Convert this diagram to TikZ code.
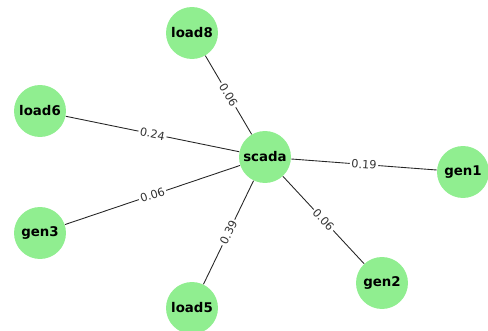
\documentclass[tikz,border=0pt]{standalone}
\usepackage{fontspec}
\setmainfont{DejaVu Sans}
\definecolor{lightgreen}{HTML}{90EE90}
\begin{document}
\begin{tikzpicture}[x=0.02cm,y=-0.02cm,
    bus/.style={circle, fill=lightgreen, minimum size=1.04cm, inner sep=0pt, font=\fontsize{7.6}{9}\selectfont\bfseries},
    link/.style={draw=black!85, line width=0.5pt},
    weight/.style={midway, sloped, fill=white, inner sep=1pt, text=black!80, font=\fontsize{6.4}{8}\selectfont}]
            \useasboundingbox (0,0) rectangle (488,331);
            \node[bus] (scada) at (265,157) {scada};
            \node[bus] (load8) at (192,33) {load8};
            \node[bus] (load6) at (40,111) {load6};
            \node[bus] (gen3) at (40,233) {gen3};
            \node[bus] (load5) at (192,308) {load5};
            \node[bus] (gen2) at (382,283) {gen2};
            \node[bus] (gen1) at (463,172) {gen1};
            \draw[link] (scada) -- node[weight] {0.06} (load8);
            \draw[link] (load6) -- node[weight] {0.24} (scada);
            \draw[link] (scada) -- node[weight] {0.19} (gen1);
            \draw[link] (gen3) -- node[weight] {0.06} (scada);
            \draw[link] (load5) -- node[weight] {0.39} (scada);
            \draw[link] (scada) -- node[weight] {0.06} (gen2);
        \end{tikzpicture}
\end{document}
